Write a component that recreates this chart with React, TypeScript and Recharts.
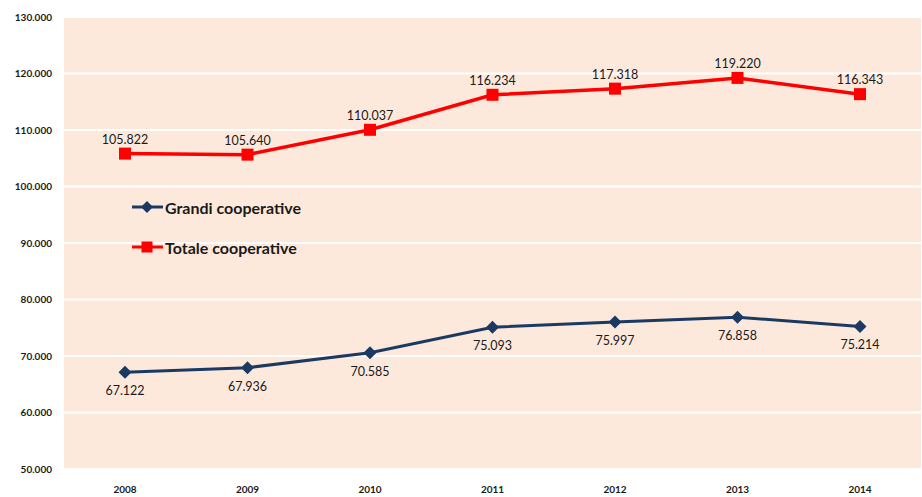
import React from 'react';
import { LineChart, Line, XAxis, YAxis, CartesianGrid, Legend, LabelList } from 'recharts';

const years = ['2008', '2009', '2010', '2011', '2012', '2013', '2014'];
const grandi = [67122, 67936, 70585, 75093, 75997, 76858, 75214];
const totale = [105822, 105640, 110037, 116234, 117318, 119220, 116343];
const yTicks = [50000, 60000, 70000, 80000, 90000, 100000, 110000, 120000, 130000];
const boundaryTicks = [0, 1, 2, 3, 4, 5, 6, 7];

const NAVY = '#1B3A63';
const RED = '#FF0000';
const FONT = 'Lato, "Open Sans", sans-serif';

const data = years.map((y, i) => ({ year: y, grandi: grandi[i], totale: totale[i] }));

const fmt = (n: number) => String(Math.round(n)).replace(/\B(?=(\d{3})+(?!\d))/g, '.');

const Diamond = (props: any) => {
  const { cx, cy } = props;
  if (cx == null || cy == null) return null;
  const r = 6.5;
  return <polygon points={`${cx},${cy - r} ${cx + r},${cy} ${cx},${cy + r} ${cx - r},${cy}`} fill={NAVY} />;
};

const Square = (props: any) => {
  const { cx, cy } = props;
  if (cx == null || cy == null) return null;
  const s = 12;
  return <rect x={cx - s / 2} y={cy - s / 2} width={s} height={s} fill={RED} />;
};

const LegendContent = (props: any) => {
  const { payload } = props;
  return (
    <div style={{ fontFamily: FONT }}>
      {(payload || []).map((p: any) => (
        <div key={p.value} style={{ display: 'flex', alignItems: 'center', height: 40 }}>
          <svg width={32} height={16} style={{ display: 'block' }}>
            <line x1={0} y1={8} x2={31} y2={8} stroke={p.color} strokeWidth={3} />
            {p.dataKey === 'grandi' ? (
              <polygon points="15,2 21,8 15,14 9,8" fill={p.color} />
            ) : (
              <rect x={9.5} y={2.5} width={11} height={11} fill={p.color} />
            )}
          </svg>
          <span style={{ fontWeight: 700, fontSize: 16, color: '#1a1a1a', marginLeft: 1 }}>{p.value}</span>
        </div>
      ))}
    </div>
  );
};

export default function App() {
  return (
    <div style={{ position: 'absolute', left: 0, top: 0, width: 922, height: 497, background: '#fff' }}>
      <LineChart width={922} height={497} data={data} margin={{ top: 17, right: 1, bottom: 0, left: 0 }}>
        <CartesianGrid vertical={false} stroke="#FFFFFF" strokeWidth={2} fill="#FDE9DB" />
        <XAxis
          xAxisId="marks"
          type="number"
          domain={[0, 7]}
          ticks={boundaryTicks}
          tick={false}
          tickSize={5}
          height={0}
          stroke="#A6A6A6"
          axisLine={{ stroke: '#A6A6A6', strokeWidth: 1.5 }}
          tickLine={{ stroke: '#A6A6A6', strokeWidth: 1.5 }}
          allowDataOverflow
        />
        <XAxis
          dataKey="year"
          padding={{ left: 61, right: 61 }}
          axisLine={false}
          tickLine={false}
          tickSize={6}
          tickMargin={11}
          height={28}
          tick={{ fontFamily: FONT, fontSize: 10, fontWeight: 700, fill: '#1a1a1a' }}
        />
        <YAxis
          domain={[50000, 130000]}
          ticks={yTicks}
          tickFormatter={fmt}
          width={64}
          axisLine={false}
          tickLine={false}
          tickSize={6}
          tickMargin={6}
          tick={{ fontFamily: FONT, fontSize: 10, fontWeight: 700, fill: '#1a1a1a' }}
        />
        <Legend
          layout="vertical"
          align="center"
          verticalAlign="middle"
          content={<LegendContent />}
          wrapperStyle={{ left: 132, top: 187, width: 240, height: 80 }}
        />
        <Line
          dataKey="grandi"
          name="Grandi cooperative"
          stroke={NAVY}
          strokeWidth={3}
          dot={<Diamond />}
          activeDot={false}
          isAnimationActive={false}
        >
          <LabelList dataKey="grandi" position="bottom" offset={14} formatter={(v: any) => fmt(Number(v))} style={{ fontFamily: FONT, fontSize: 12.5, fill: '#1a1a1a' }} />
        </Line>
        <Line
          dataKey="totale"
          name="Totale cooperative"
          stroke={RED}
          strokeWidth={3.5}
          dot={<Square />}
          activeDot={false}
          isAnimationActive={false}
        >
          <LabelList dataKey="totale" position="top" offset={10} formatter={(v: any) => fmt(Number(v))} style={{ fontFamily: FONT, fontSize: 12.5, fill: '#1a1a1a' }} />
        </Line>
      </LineChart>
    </div>
  );
}
